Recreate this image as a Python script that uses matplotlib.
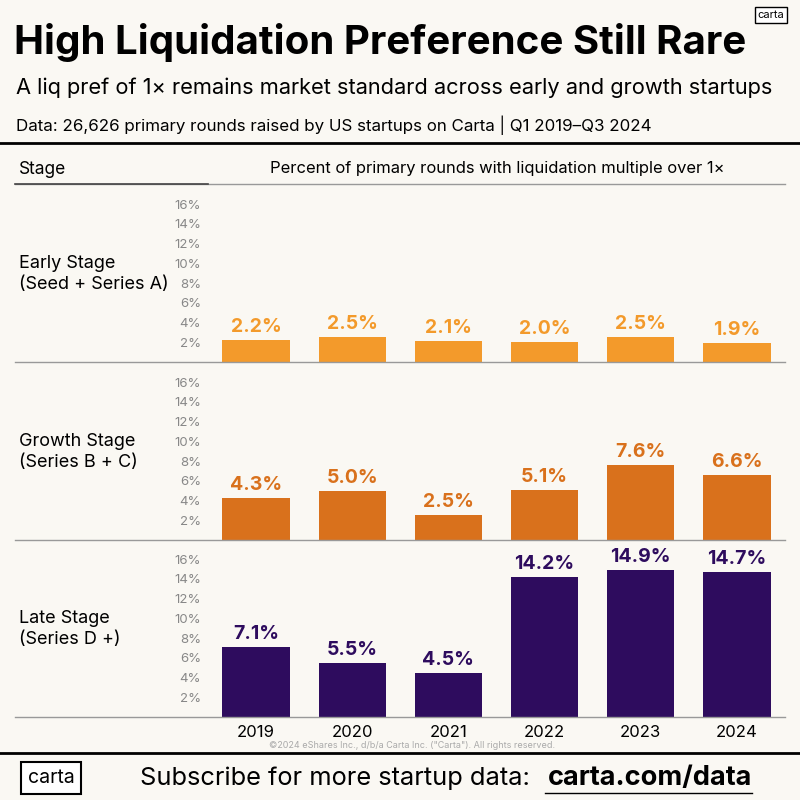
import matplotlib
matplotlib.use("Agg")
import matplotlib.pyplot as plt

years = ["2019", "2020", "2021", "2022", "2023", "2024"]
stages = ["Early Stage\n(Seed + Series A)", "Growth Stage\n(Series B + C)", "Late Stage\n(Series D +)"]
early = [2.2, 2.5, 2.1, 2.0, 2.5, 1.9]
growth = [4.3, 5.0, 2.5, 5.1, 7.6, 6.6]
late = [7.1, 5.5, 4.5, 14.2, 14.9, 14.7]
yticks = [2, 4, 6, 8, 10, 12, 14, 16]
colors = ["#f39a2b", "#d9711c", "#2e0c5e"]

BG = "#faf8f3"
plt.rcParams['font.family'] = ['Inter', 'DejaVu Sans']
fig = plt.figure(figsize=(8, 8), dpi=100, facecolor=BG)

def fx(px): return px / 800
def fy(py): return 1 - py / 800

fig.text(fx(14), fy(42), "High Liquidation Preference Still Rare", fontsize=29, fontweight='bold', va='center', ha='left')
fig.text(fx(16), fy(88), "A liq pref of 1× remains market standard across early and growth startups", fontsize=15.7, va='center', ha='left')
fig.text(fx(16), fy(125), "Data: 26,626 primary rounds raised by US startups on Carta | Q1 2019–Q3 2024", fontsize=12.2, va='center', ha='left')
fig.text(fx(771), fy(15), "carta", fontsize=8, va='center', ha='center',
         bbox=dict(boxstyle='square,pad=0.25', fc='white', ec='black', lw=1))
fig.add_artist(plt.Line2D([0, 1], [fy(143), fy(143)], color='black', lw=2))
fig.text(fx(19), fy(169), "Stage", fontsize=12.5, va='center', ha='left')
fig.text(fx(497), fy(169), "Percent of primary rounds with liquidation multiple over 1×", fontsize=11.9, va='center', ha='center')
fig.add_artist(plt.Line2D([fx(15), fx(785)], [fy(184), fy(184)], color='#999999', lw=1))
fig.add_artist(plt.Line2D([fx(15), fx(208)], [fy(184), fy(184)], color='#444444', lw=1.2))

baselines = [362, 540, 717]
for data, base, col, lab in zip([early, growth, late], baselines, colors, stages):
    ax = fig.add_axes([fx(208), fy(base), fx(785) - fx(208), 178 / 800])
    ax.set_facecolor('none')
    x = list(range(len(years)))
    ax.bar(x, data, width=0.7, color=col)
    for xi, v in zip(x, data):
        ax.text(xi, v + 0.4, f"{v:.1f}%", ha='center', va='bottom', fontsize=14, fontweight='bold', color=col)
    ax.set_xlim(-0.5, 5.5)
    ax.set_ylim(0, 18.05)
    ax.set_yticks(yticks)
    ax.set_yticklabels([f"{t}%" for t in yticks], color='#888888', fontsize=9.5)
    ax.tick_params(axis='y', length=0, pad=5)
    ax.tick_params(axis='x', length=0)
    for s in ax.spines.values():
        s.set_visible(False)
    if base == 717:
        ax.set_xticks(x)
        ax.set_xticklabels(years, fontsize=12)
        ax.tick_params(axis='x', pad=6)
    else:
        ax.set_xticks([])
    fig.add_artist(plt.Line2D([fx(15), fx(785)], [fy(base), fy(base)], color='#999999', lw=1))
    fig.text(fx(19), fy(base - 88), lab, fontsize=13, va='center', ha='left', linespacing=1.3)

fig.text(fx(412), fy(745), "©2024 eShares Inc., d/b/a Carta Inc. (\"Carta\"). All rights reserved.", fontsize=6.5, color='#aaaaaa', ha='center', va='center')
fig.add_artist(plt.Line2D([0, 1], [fy(753), fy(753)], color='black', lw=2))
fig.text(fx(51), fy(778), "carta", fontsize=14, va='center', ha='center',
         bbox=dict(boxstyle='square,pad=0.35', fc='white', ec='black', lw=1.5))
fig.text(fx(530), fy(778), "Subscribe for more startup data:", fontsize=18.3, va='center', ha='right')
fig.text(fx(752), fy(778), "carta.com/data", fontsize=19.5, fontweight='bold', va='center', ha='right')
fig.add_artist(plt.Line2D([fx(545), fx(752)], [fy(793), fy(793)], color='black', lw=1))

fig.savefig("out.png", dpi=100, facecolor=BG)
